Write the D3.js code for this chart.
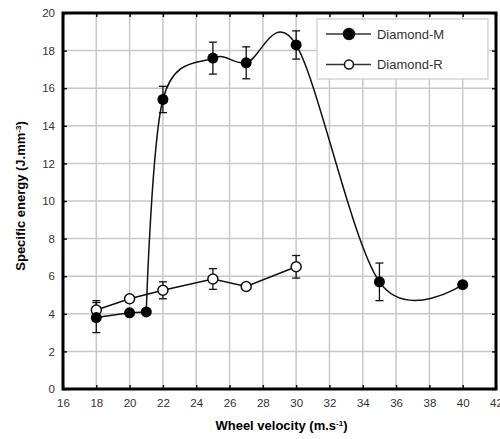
<!DOCTYPE html>
<html>
<head>
<meta charset="utf-8">
<script src="https://cdn.jsdelivr.net/npm/d3@7"></script>
<style>
  body { margin: 0; background: #fff; }
  text { font-family: "Liberation Sans", Arial, sans-serif; }
</style>
</head>
<body>
<div id="chart"></div>
<script>
// Diamond-M (filled markers, smooth curve)
var mX = [18, 20, 21, 22, 25, 27, 30, 35, 40];
var mY = [3.8, 4.05, 4.1, 15.4, 17.6, 17.35, 18.3, 5.7, 5.55];
var mErr = [0.8, 0, 0, 0.7, 0.85, 0.85, 0.75, 1.0, 0];

// Diamond-R (open markers, straight segments)
var rX = [18, 20, 22, 25, 27, 30];
var rY = [4.2, 4.8, 5.25, 5.85, 5.45, 6.5];
var rErr = [0.5, 0, 0.45, 0.55, 0, 0.6];

var xTicks = d3.range(16, 43, 2);
var yTicks = d3.range(0, 21, 2);

var margin = {top: 13, right: 4, bottom: 50, left: 63},
    width = 500 - margin.left - margin.right,
    height = 439 - margin.top - margin.bottom;

var svg = d3.select("#chart").append("svg")
    .attr("width", 500)
    .attr("height", 439)
  .append("g")
    .attr("transform", "translate(" + margin.left + "," + margin.top + ")");

var xScale = d3.scaleLinear().domain([16, 42]).range([0, width]);
var yScale = d3.scaleLinear().domain([0, 20]).range([height, 0]);

// grid
svg.append("g").selectAll("line").data(xTicks).enter().append("line")
    .attr("x1", d => xScale(d)).attr("x2", d => xScale(d))
    .attr("y1", 0).attr("y2", height)
    .attr("stroke", "#c8c8c8").attr("stroke-width", 1.5);
svg.append("g").selectAll("line").data(yTicks).enter().append("line")
    .attr("y1", d => yScale(d)).attr("y2", d => yScale(d))
    .attr("x1", 0).attr("x2", width)
    .attr("stroke", "#c8c8c8").attr("stroke-width", 1.5);

// axes with inside ticks
svg.append("g")
    .attr("transform", "translate(0," + height + ")")
    .call(d3.axisBottom(xScale).tickValues(xTicks).tickSizeInner(-4).tickSizeOuter(0).tickPadding(10));
svg.append("g")
    .call(d3.axisLeft(yScale).tickValues(yTicks).tickSizeInner(-4).tickSizeOuter(0).tickPadding(8));
svg.append("g")
    .call(d3.axisTop(xScale).tickValues(xTicks).tickSizeInner(-4).tickSizeOuter(0).tickFormat(""));
svg.append("g")
    .attr("transform", "translate(" + width + ",0)")
    .call(d3.axisRight(yScale).tickValues(yTicks).tickSizeInner(-4).tickSizeOuter(0).tickFormat(""));

svg.selectAll(".domain").remove();
svg.selectAll(".tick line").attr("stroke", "#111").attr("stroke-width", 1.5);
svg.selectAll(".tick text").attr("font-size", 11.5).attr("fill", "#333");

// frame
svg.append("rect")
    .attr("x", 0).attr("y", 0).attr("width", width).attr("height", height)
    .attr("fill", "none").attr("stroke", "#000").attr("stroke-width", 3);

// axis titles
svg.append("text")
    .attr("x", width / 2 + 2)
    .attr("y", height + 41)
    .attr("text-anchor", "middle")
    .attr("font-size", 13).attr("font-weight", "bold")
    .html('Wheel velocity (m.s<tspan baseline-shift="super" font-size="8">-1</tspan>)');
svg.append("text")
    .attr("transform", "rotate(-90)")
    .attr("x", -height / 2 + 5)
    .attr("y", -38)
    .attr("text-anchor", "middle")
    .attr("font-size", 13).attr("font-weight", "bold")
    .html('Specific energy (J.mm<tspan baseline-shift="super" font-size="8">-3</tspan>)');

function errorBars(xs, ys, es) {
    var g = svg.append("g");
    xs.forEach(function(x, i) {
        if (!es[i]) return;
        var cx = xScale(x), y1 = yScale(ys[i] + es[i]), y2 = yScale(ys[i] - es[i]);
        g.append("line").attr("x1", cx).attr("x2", cx).attr("y1", y1).attr("y2", y2)
            .attr("stroke", "#111").attr("stroke-width", 1.3);
        [y1, y2].forEach(function(y) {
            g.append("line").attr("x1", cx - 4).attr("x2", cx + 4).attr("y1", y).attr("y2", y)
                .attr("stroke", "#111").attr("stroke-width", 1.3);
        });
    });
}

var mData = mX.map((d, i) => ({x: d, y: mY[i]}));
var rData = rX.map((d, i) => ({x: d, y: rY[i]}));

svg.append("path")
    .datum(rData)
    .attr("fill", "none").attr("stroke", "#111").attr("stroke-width", 1.5)
    .attr("d", d3.line().x(d => xScale(d.x)).y(d => yScale(d.y)));

// low plateau is straight, the rest is smoothed
svg.append("path")
    .datum(mData.slice(0, 3))
    .attr("fill", "none").attr("stroke", "#111").attr("stroke-width", 1.5)
    .attr("d", d3.line().x(d => xScale(d.x)).y(d => yScale(d.y)));
svg.append("path")
    .datum(mData.slice(2))
    .attr("fill", "none").attr("stroke", "#111").attr("stroke-width", 1.5)
    .attr("d", d3.line().curve(d3.curveCatmullRom.alpha(0)).x(d => xScale(d.x)).y(d => yScale(d.y)));

errorBars(rX, rY, rErr);
errorBars(mX, mY, mErr);

svg.append("g").selectAll("circle").data(rData).enter().append("circle")
    .attr("cx", d => xScale(d.x)).attr("cy", d => yScale(d.y)).attr("r", 5)
    .attr("fill", "#fff").attr("stroke", "#111").attr("stroke-width", 1.5);
svg.append("g").selectAll("circle").data(mData).enter().append("circle")
    .attr("cx", d => xScale(d.x)).attr("cy", d => yScale(d.y)).attr("r", 5.5)
    .attr("fill", "#000");

// legend
var legend = svg.append("g").attr("transform", "translate(" + (xScale(31.25)) + ",6)");
legend.append("rect")
    .attr("width", 171).attr("height", 60)
    .attr("fill", "#fff").attr("stroke", "#ccc").attr("stroke-width", 1.2);
var items = [{name: "Diamond-M", fill: "#000"}, {name: "Diamond-R", fill: "#fff"}];
items.forEach(function(it, i) {
    var y = 15 + i * 30.5;
    legend.append("line").attr("x1", 9).attr("x2", 54).attr("y1", y).attr("y2", y)
        .attr("stroke", "#333").attr("stroke-width", 1.5);
    legend.append("circle").attr("cx", 32).attr("cy", y).attr("r", it.fill === "#000" ? 5.5 : 4.5)
        .attr("fill", it.fill).attr("stroke", "#111").attr("stroke-width", 1.5);
    legend.append("text").attr("x", 60).attr("y", y + 4.5)
        .attr("font-size", 13).attr("fill", "#333").text(it.name);
});
</script>
</body>
</html>
